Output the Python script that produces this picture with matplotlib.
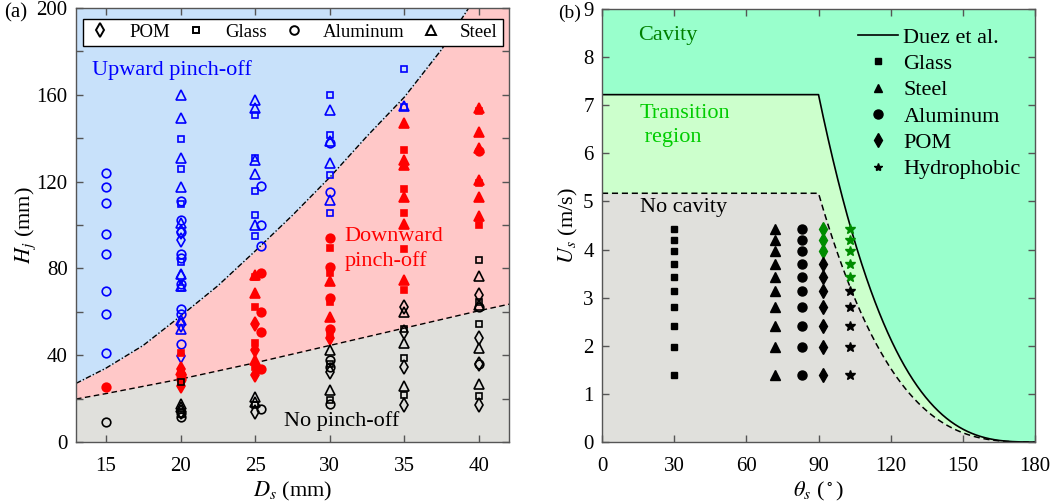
import numpy as np
import matplotlib
matplotlib.use("Agg")
import matplotlib.pyplot as plt
from matplotlib.lines import Line2D

plt.rcParams['font.family'] = ['Liberation Serif', 'DejaVu Serif']
plt.rcParams['mathtext.fontset'] = 'stix'

# ---------------- Panel (a) data ----------------
# boundary curves
upper_D = [13, 15, 17.5, 20, 22.5, 25, 27.5, 30, 32.5, 35, 37.5, 39.3]
upper_H = [27, 34, 44.5, 58, 72, 88, 104.5, 122, 141, 159, 181, 200]
lower_D = [13, 15, 20, 25, 30, 35, 40, 42]
lower_H = [19.8, 22.3, 29, 36.5, 44.5, 52.5, 60.5, 63.5]

# Upward pinch-off (blue, open)
up_steel_D = [20]*9 + [25]*5 + [30]*4 + [35]
up_steel_H = [160, 149.5, 130.7, 117.4, 100.7, 77.5, 72, 56, 52,
              157.6, 153.8, 130, 123.4, 100,
              153, 138.5, 128.4, 111.5,
              155]
up_glass_D = [20]*5 + [25]*5 + [30]*4 + [35]*2
up_glass_H = [139.5, 126, 109.5, 83, 71,
              150.7, 131, 115.7, 104.6, 95,
              160, 141.5, 123, 105.4,
              171.8, 154.5]
up_alu_D = [15]*8 + [20]*9 + [25.4]*3 + [30]*2
up_alu_H = [124, 117.6, 110, 96, 86.5, 69.5, 59.2, 41.2,
            111, 102.5, 97, 86.5, 85, 73, 61.5, 59, 45,
            118, 100, 90.3,
            137.7, 115.3]
up_pom_D = [20]*5
up_pom_H = [97, 93, 76, 54, 39.5]

# Downward pinch-off (red, filled)
dn_steel_D = [20] + [25]*3 + [30]*2 + [35]*6 + [40]*6
dn_steel_H = [33,
              77, 68.5, 37.7,
              74.3, 57.7,
              147.2, 130, 127.6, 112.8, 100.4, 74.6,
              154, 143, 135.4, 120.7, 113, 104.1]
dn_glass_D = [20] + [25]*4 + [30]*4 + [35]*5 + [40]*3
dn_glass_H = [41,
              76, 62.3, 45.4, 34.6,
              89.2, 77.7, 64.6, 50.7,
              134.6, 116.4, 105.4, 88.8, 70,
              152.5, 119.3, 100]
dn_alu_D = [15] + [20]*2 + [25.4]*4 + [30]*4 + [40]
dn_alu_H = [25.2,
            31, 29,
            78, 59.7, 50.7, 33.5,
            93.8, 80.7, 66.2, 52.3,
            134]
dn_pom_D = [20]*2 + [25]*3 + [30]
dn_pom_H = [33.5, 26, 54.3, 42.3, 30.8, 47.7]

# No pinch-off (black, open)
no_steel_D = [20]*2 + [25]*2 + [30]*2 + [35]*3 + [40]*4
no_steel_H = [17.7, 16, 20.8, 18.5, 42.6, 23.8, 60, 45.4, 25.7, 76.5, 63, 43.5, 26.6]
no_glass_D = [20]*2 + [25] + [30]*2 + [35]*3 + [40]*4
no_glass_H = [27.5, 13, 17, 35.8, 19.2, 52.3, 38.5, 21.5, 84, 64.6, 54.6, 21.1]
no_alu_D = [15] + [20]*2 + [25.4] + [30]*3 + [40]*2
no_alu_H = [9.1, 13.4, 11.5, 15.4, 38, 34.6, 17.4, 62.3, 35.8]
no_pom_D = [20, 25, 30] + [35]*4 + [40]*4
no_pom_H = [14, 13.8, 32.3, 62.3, 50.7, 34.6, 17, 67.7, 47.7, 35.8, 17]

# ---------------- Panel (b) data ----------------
U_levels = [4.43, 4.19, 3.96, 3.71, 3.43, 3.13, 2.80, 2.42, 1.98, 1.39]
theta_glass = 30
theta_steel = 72
theta_alu = 83
theta_pom = 92
theta_hydro = 103
n_green_pom = 3
n_green_hydro = 5
U_duez_max = 7.22     # plateau of Duez et al. model
U_nocav_max = 5.17    # plateau of no-cavity boundary

# ---------------- Styles ----------------
BLUE_BG = '#c8e1fa'
RED_BG = '#ffc8c8'
GRAY_BG = '#e0e0dc'
CAV_BG = '#99ffcc'
TRANS_BG = '#ccffcc'
SPINE = '#555555'

W, H = 1057, 504
fig = plt.figure(figsize=(W/100, H/100), dpi=100)
axA = fig.add_axes([76/W, 1-442/H, (509-76)/W, (442-8)/H])
axB = fig.add_axes([602/W, 1-442/H, (1035-602)/W, (442-9)/H])

# ---- Panel (a) ----
axA.set_xlim(13, 42)
axA.set_ylim(0, 200)
axA.set_facecolor(RED_BG)
axA.fill_between(upper_D, upper_H, 200, color=BLUE_BG, lw=0, zorder=0)
axA.fill_between(lower_D, 0, lower_H, color=GRAY_BG, lw=0, zorder=0)
axA.plot(upper_D, upper_H, color='black', lw=1, ls=(0, (4, 1.5, 1, 1.5)), zorder=1)
axA.plot(lower_D, lower_H, color='black', lw=1, ls=(0, (4, 2.5)), zorder=1)

mk = {'steel': ('^', 6.5), 'glass': ('s', 4.6), 'alu': ('o', 6.2), 'pom': ('d', 7)}
groups = [
    ('blue', False, [('steel', up_steel_D, up_steel_H), ('glass', up_glass_D, up_glass_H),
                     ('alu', up_alu_D, up_alu_H), ('pom', up_pom_D, up_pom_H)]),
    ('red', True, [('steel', dn_steel_D, dn_steel_H), ('glass', dn_glass_D, dn_glass_H),
                   ('alu', dn_alu_D, dn_alu_H), ('pom', dn_pom_D, dn_pom_H)]),
    ('black', False, [('steel', no_steel_D, no_steel_H), ('glass', no_glass_D, no_glass_H),
                      ('alu', no_alu_D, no_alu_H), ('pom', no_pom_D, no_pom_H)]),
]
for color, filled, items in groups:
    for name, xs, ys in items:
        m, s = mk[name]
        axA.plot(xs, ys, ls='none', marker=m, ms=s, mew=1.2, mec=color,
                 mfc=color if filled else 'none', zorder=3)

axA.set_xticks([15, 20, 25, 30, 35, 40])
axA.set_yticks(range(0, 201, 20))
axA.set_yticklabels([str(v) if v % 40 == 0 else '' for v in range(0, 201, 20)])
axA.set_xlabel(r'$D_s$ (mm)', fontsize=16, labelpad=3)
axA.set_ylabel(r'$H_j$ (mm)', fontsize=16, labelpad=-1)

axA.text(14.1, 171.5, 'Upward pinch-off', color='blue', fontsize=16, va='center', ha='left')
axA.text(31.0, 89, 'Downward\npinch-off', color='red', fontsize=16, va='center', ha='left',
         linespacing=1.3)
axA.text(26.95, 9.5, 'No pinch-off', color='black', fontsize=16, va='center', ha='left')

legA_handles = [
    Line2D([], [], ls='none', marker='d', ms=7, mew=1.4, mec='black', mfc='none'),
    Line2D([], [], ls='none', marker='s', ms=4.6, mew=1.4, mec='black', mfc='none'),
    Line2D([], [], ls='none', marker='o', ms=6.2, mew=1.4, mec='black', mfc='none'),
    Line2D([], [], ls='none', marker='^', ms=6.5, mew=1.4, mec='black', mfc='none'),
]
legA = axA.legend(legA_handles, ['POM', 'Glass', 'Aluminum', 'Steel'], ncol=4,
                  loc='lower left', bbox_to_anchor=(0.0155, 0.913, 0.97, 0.057),
                  mode='expand', fontsize=13.6, frameon=True, fancybox=False,
                  edgecolor='black', framealpha=1, borderpad=0.25, handlelength=1.3,
                  handletextpad=0.9, borderaxespad=0)
legA.get_frame().set_linewidth(1.0)

# ---- Panel (b) ----
theta = np.linspace(0, 180, 721)
shape = np.where(theta <= 90, 1.0, ((180 - theta) / 90.0) ** 3)
U_duez = U_duez_max * shape
U_nocav = U_nocav_max * shape

axB.set_xlim(0, 180)
axB.set_ylim(0, 9)
axB.set_facecolor(CAV_BG)
axB.fill_between(theta, 0, U_duez, color=TRANS_BG, lw=0, zorder=0)
axB.fill_between(theta, 0, U_nocav, color=GRAY_BG, lw=0, zorder=0)
axB.plot(theta, U_duez, color='black', lw=1.2, zorder=1)
axB.plot(theta, U_nocav, color='black', lw=1.1, ls=(0, (4, 2.5)), zorder=1)

GREEN = '#008c00'
n = len(U_levels)
axB.plot([theta_glass]*n, U_levels, ls='none', marker='s', ms=5, color='black', zorder=3)
axB.plot([theta_steel]*n, U_levels, ls='none', marker='^', ms=6.5, color='black', zorder=3)
axB.plot([theta_alu]*n, U_levels, ls='none', marker='o', ms=6.5, color='black', zorder=3)
axB.plot([theta_pom]*n_green_pom, U_levels[:n_green_pom], ls='none', marker='d', ms=7.5,
         color=GREEN, zorder=3)
axB.plot([theta_pom]*(n-n_green_pom), U_levels[n_green_pom:], ls='none', marker='d', ms=7.5,
         color='black', zorder=3)
axB.plot([theta_hydro]*n_green_hydro, U_levels[:n_green_hydro], ls='none', marker='*', ms=7.5,
         color=GREEN, zorder=3)
axB.plot([theta_hydro]*(n-n_green_hydro), U_levels[n_green_hydro:], ls='none', marker='*', ms=7.5,
         color='black', zorder=3)

axB.set_xticks(range(0, 181, 30))
axB.set_yticks(range(0, 10))
axB.set_xlabel(r'$\theta_s$ ($^\circ$)', fontsize=16, labelpad=3)
axB.set_ylabel(r'$U_s$ (m/s)', fontsize=16, labelpad=2)

axB.text(15, 8.45, 'Cavity', color='#008000', fontsize=16, va='center', ha='left')
axB.text(15.5, 6.58, 'Transition\n region', color='#00cc00', fontsize=16, va='center',
         ha='left', linespacing=1.3)
axB.text(15.6, 4.88, 'No cavity', color='black', fontsize=16, va='center', ha='left')

legB_handles = [
    Line2D([], [], color='black', lw=1.2),
    Line2D([], [], ls='none', marker='s', ms=4.5, color='black'),
    Line2D([], [], ls='none', marker='^', ms=6, color='black'),
    Line2D([], [], ls='none', marker='o', ms=6.5, color='black'),
    Line2D([], [], ls='none', marker='d', ms=7, color='black'),
    Line2D([], [], ls='none', marker='*', ms=6, color='black'),
]
axB.legend(legB_handles, ['Duez et al.', 'Glass', 'Steel', 'Aluminum', 'POM', 'Hydrophobic'],
           loc='upper left', bbox_to_anchor=(0.591, 0.958), fontsize=16, frameon=False,
           borderpad=0, borderaxespad=0, handlelength=1.8, handletextpad=0.25,
           labelspacing=0.26)

for ax in (axA, axB):
    for sp in ax.spines.values():
        sp.set_color(SPINE)
        sp.set_linewidth(1.0)
    ax.tick_params(direction='in', length=5, width=1.0, color=SPINE, labelsize=15,
                   top=True, right=True)
    ax.tick_params(axis='x', pad=11)
    ax.tick_params(axis='y', pad=6)
    ax.set_axisbelow(False)

fig.text(4/W, 1-13/H, '(a)', fontsize=15, va='center', ha='left')
fig.text(558/W, 1-13/H, '(b)', fontsize=14, va='center', ha='left')

fig.savefig('out.png', dpi=100)
